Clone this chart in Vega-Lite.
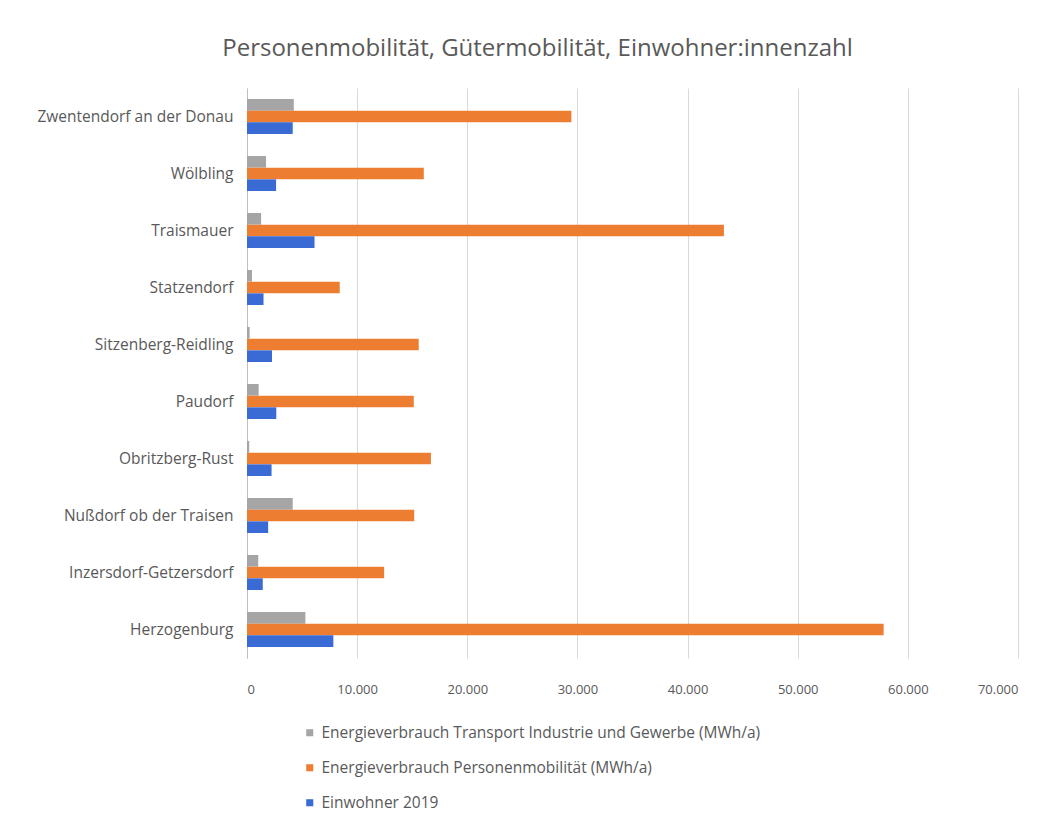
{
  "$schema": "https://vega.github.io/schema/vega-lite/v6.json",
  "autosize": "none",
  "width": 771,
  "height": 570,
  "padding": {"left": 247, "top": 88, "right": 36, "bottom": 158},
  "background": "white",
  "title": {
    "text": "Personenmobilität, Gütermobilität, Einwohner:innenzahl",
    "anchor": "middle",
    "dx": -95,
    "offset": 27,
    "font": "Open Sans",
    "fontSize": 24,
    "fontWeight": "normal",
    "color": "#595959"
  },
  "data": {
    "values": [
      {"gemeinde": "Zwentendorf an der Donau", "serie": "Energieverbrauch Transport Industrie und Gewerbe (MWh/a)", "wert": 4250},
      {"gemeinde": "Zwentendorf an der Donau", "serie": "Energieverbrauch Personenmobilität (MWh/a)", "wert": 29450},
      {"gemeinde": "Zwentendorf an der Donau", "serie": "Einwohner 2019", "wert": 4150},
      {"gemeinde": "Wölbling", "serie": "Energieverbrauch Transport Industrie und Gewerbe (MWh/a)", "wert": 1730},
      {"gemeinde": "Wölbling", "serie": "Energieverbrauch Personenmobilität (MWh/a)", "wert": 16050},
      {"gemeinde": "Wölbling", "serie": "Einwohner 2019", "wert": 2640},
      {"gemeinde": "Traismauer", "serie": "Energieverbrauch Transport Industrie und Gewerbe (MWh/a)", "wert": 1280},
      {"gemeinde": "Traismauer", "serie": "Energieverbrauch Personenmobilität (MWh/a)", "wert": 43300},
      {"gemeinde": "Traismauer", "serie": "Einwohner 2019", "wert": 6130},
      {"gemeinde": "Statzendorf", "serie": "Energieverbrauch Transport Industrie und Gewerbe (MWh/a)", "wert": 450},
      {"gemeinde": "Statzendorf", "serie": "Energieverbrauch Personenmobilität (MWh/a)", "wert": 8420},
      {"gemeinde": "Statzendorf", "serie": "Einwohner 2019", "wert": 1500},
      {"gemeinde": "Sitzenberg-Reidling", "serie": "Energieverbrauch Transport Industrie und Gewerbe (MWh/a)", "wert": 240},
      {"gemeinde": "Sitzenberg-Reidling", "serie": "Energieverbrauch Personenmobilität (MWh/a)", "wert": 15590},
      {"gemeinde": "Sitzenberg-Reidling", "serie": "Einwohner 2019", "wert": 2270},
      {"gemeinde": "Paudorf", "serie": "Energieverbrauch Transport Industrie und Gewerbe (MWh/a)", "wert": 1060},
      {"gemeinde": "Paudorf", "serie": "Energieverbrauch Personenmobilität (MWh/a)", "wert": 15140},
      {"gemeinde": "Paudorf", "serie": "Einwohner 2019", "wert": 2660},
      {"gemeinde": "Obritzberg-Rust", "serie": "Energieverbrauch Transport Industrie und Gewerbe (MWh/a)", "wert": 200},
      {"gemeinde": "Obritzberg-Rust", "serie": "Energieverbrauch Personenmobilität (MWh/a)", "wert": 16700},
      {"gemeinde": "Obritzberg-Rust", "serie": "Einwohner 2019", "wert": 2230},
      {"gemeinde": "Nußdorf ob der Traisen", "serie": "Energieverbrauch Transport Industrie und Gewerbe (MWh/a)", "wert": 4150},
      {"gemeinde": "Nußdorf ob der Traisen", "serie": "Energieverbrauch Personenmobilität (MWh/a)", "wert": 15180},
      {"gemeinde": "Nußdorf ob der Traisen", "serie": "Einwohner 2019", "wert": 1920},
      {"gemeinde": "Inzersdorf-Getzersdorf", "serie": "Energieverbrauch Transport Industrie und Gewerbe (MWh/a)", "wert": 1020},
      {"gemeinde": "Inzersdorf-Getzersdorf", "serie": "Energieverbrauch Personenmobilität (MWh/a)", "wert": 12450},
      {"gemeinde": "Inzersdorf-Getzersdorf", "serie": "Einwohner 2019", "wert": 1430},
      {"gemeinde": "Herzogenburg", "serie": "Energieverbrauch Transport Industrie und Gewerbe (MWh/a)", "wert": 5300},
      {"gemeinde": "Herzogenburg", "serie": "Energieverbrauch Personenmobilität (MWh/a)", "wert": 57800},
      {"gemeinde": "Herzogenburg", "serie": "Einwohner 2019", "wert": 7840}
    ]
  },
  "mark": {"type": "bar"},
  "encoding": {
    "y": {
      "field": "gemeinde",
      "type": "nominal",
      "sort": ["Zwentendorf an der Donau", "Wölbling", "Traismauer", "Statzendorf", "Sitzenberg-Reidling", "Paudorf", "Obritzberg-Rust", "Nußdorf ob der Traisen", "Inzersdorf-Getzersdorf", "Herzogenburg"],
      "scale": {"paddingInner": 0.386, "paddingOuter": 0.193},
      "axis": {
        "title": null,
        "ticks": false,
        "domain": true,
        "domainColor": "#bfbfbf",
        "labelPadding": 14,
        "labelFont": "Open Sans",
        "labelFontSize": 15.5,
        "labelColor": "#595959",
        "labelLimit": 300
      }
    },
    "yOffset": {
      "field": "serie",
      "type": "nominal",
      "sort": ["Energieverbrauch Transport Industrie und Gewerbe (MWh/a)", "Energieverbrauch Personenmobilität (MWh/a)", "Einwohner 2019"],
      "scale": {"paddingInner": 0, "paddingOuter": 0}
    },
    "x": {
      "field": "wert",
      "type": "quantitative",
      "scale": {"domain": [0, 70000], "nice": false},
      "axis": {
        "title": null,
        "values": [0, 10000, 20000, 30000, 40000, 50000, 60000, 70000],
        "labelExpr": "replace(datum.label, ',', '.')",
        "ticks": false,
        "domain": false,
        "grid": true,
        "gridColor": "#d9d9d9",
        "labelPadding": 25,
        "labelFont": "Open Sans",
        "labelFontSize": 13,
        "labelColor": "#595959"
      }
    },
    "color": {
      "field": "serie",
      "type": "nominal",
      "sort": ["Energieverbrauch Transport Industrie und Gewerbe (MWh/a)", "Energieverbrauch Personenmobilität (MWh/a)", "Einwohner 2019"],
      "scale": {
        "domain": ["Energieverbrauch Transport Industrie und Gewerbe (MWh/a)", "Energieverbrauch Personenmobilität (MWh/a)", "Einwohner 2019"],
        "range": ["#a5a5a5", "#ed7d31", "#3a6ad4"]
      },
      "legend": {
        "title": null,
        "orient": "none",
        "legendX": 55,
        "legendY": 637,
        "direction": "vertical",
        "symbolType": "square",
        "symbolSize": 50,
        "symbolStrokeWidth": 0,
        "labelFont": "Open Sans",
        "labelFontSize": 15.5,
        "labelColor": "#595959",
        "labelOffset": 4,
        "rowPadding": 18,
        "labelLimit": 600
      }
    }
  },
  "config": {
    "view": {"stroke": null}
  }
}
